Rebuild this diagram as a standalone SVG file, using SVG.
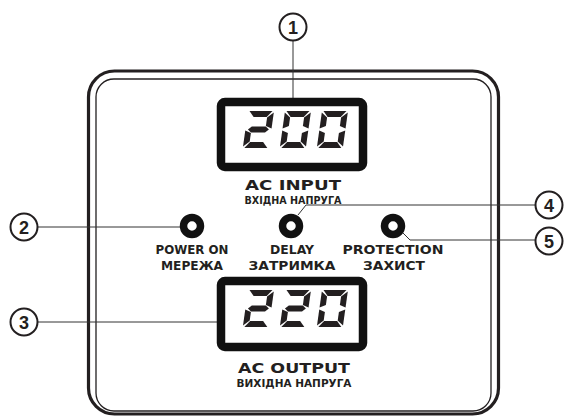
<svg xmlns="http://www.w3.org/2000/svg" width="567" height="416" viewBox="0 0 567 416">
<style>
.frame{fill:none;stroke:#231f20}
.disp{fill:#fff;stroke:#111;stroke-width:8.5}
.seg{fill:#231f20}
.led{fill:#fff;stroke:#111;stroke-width:7.5}
.lbl{font-family:"DejaVu Sans","Liberation Sans",sans-serif;font-weight:bold;fill:#231f20;text-anchor:middle}
.co{fill:#fff;stroke:#231f20;stroke-width:2}
.num{font-family:"Liberation Sans",Arial,sans-serif;font-weight:bold;font-size:18px;fill:#231f20;text-anchor:middle}
.ln{fill:none;stroke:#333;stroke-width:1}
</style>
<defs>
<polygon id="sA" class="seg" points="1.5,0 24.5,0 19.5,6 6.5,6"/>
<polygon id="sB" class="seg" points="26,1.5 26,17.5 20,15 20,6.5"/>
<polygon id="sC" class="seg" points="26,19.5 26,35.5 20,30.5 20,22"/>
<polygon id="sD" class="seg" points="6.5,31 19.5,31 24.5,37 1.5,37"/>
<polygon id="sE" class="seg" points="0,19.5 6,22 6,30.5 0,35.5"/>
<polygon id="sF" class="seg" points="0,1.5 6,6.5 6,15 0,17.5"/>
<polygon id="sG" class="seg" points="2.5,18.5 6,15.5 20,15.5 23.5,18.5 20,21.5 6,21.5"/>
<g id="d2"><use href="#sA"/><use href="#sB"/><use href="#sG"/><use href="#sE"/><use href="#sD"/></g>
<g id="d0"><use href="#sA"/><use href="#sB"/><use href="#sC"/><use href="#sD"/><use href="#sE"/><use href="#sF"/></g>
</defs>

<g id="panel">
<rect class="frame" x="88.5" y="71" width="410" height="343" rx="26" stroke-width="3.2"/>
<rect class="frame" x="96" y="79" width="395" height="332" rx="18" stroke-width="1.3"/>
</g>

<g id="connectors">
<line class="ln" x1="293" y1="40" x2="293" y2="99"/>
<line class="ln" x1="37" y1="227" x2="181" y2="227"/>
<line class="ln" x1="37" y1="322" x2="218" y2="322"/>
<polyline class="ln" points="535,205 306,205 298,215"/>
<polyline class="ln" points="535,240 410,240 403,233"/>
</g>

<g id="input-display">
<rect class="disp" x="221" y="102" width="142" height="65" rx="4"/>
<use href="#d2" transform="translate(248,111) skewX(-8)"/>
<use href="#d0" transform="translate(285,111) skewX(-8)"/>
<use href="#d0" transform="translate(322,111) skewX(-8)"/>
<text class="lbl" x="293" y="190" font-size="14.5" textLength="96" lengthAdjust="spacingAndGlyphs">AC INPUT</text>
<text class="lbl" x="293" y="204" font-size="10.5" textLength="97" lengthAdjust="spacingAndGlyphs">ВХІДНА НАПРУГА</text>
</g>

<g id="led-power">
<circle class="led" cx="192" cy="226" r="8.5"/>
<text class="lbl" x="192" y="254" font-size="12" textLength="73" lengthAdjust="spacingAndGlyphs">POWER ON</text>
<text class="lbl" x="192" y="270" font-size="12" textLength="62" lengthAdjust="spacingAndGlyphs">МЕРЕЖА</text>
</g>

<g id="led-delay">
<circle class="led" cx="291" cy="226" r="8.5"/>
<text class="lbl" x="292" y="254" font-size="12" textLength="44" lengthAdjust="spacingAndGlyphs">DELAY</text>
<text class="lbl" x="292" y="270" font-size="12" textLength="87" lengthAdjust="spacingAndGlyphs">ЗАТРИМКА</text>
</g>

<g id="led-protection">
<circle class="led" cx="393" cy="226" r="8.5"/>
<text class="lbl" x="393" y="254" font-size="12" textLength="101" lengthAdjust="spacingAndGlyphs">PROTECTION</text>
<text class="lbl" x="394" y="270" font-size="12" textLength="62" lengthAdjust="spacingAndGlyphs">ЗАХИСТ</text>
</g>

<g id="output-display">
<rect class="disp" x="221" y="281" width="142" height="66" rx="4"/>
<use href="#d2" transform="translate(248,290) skewX(-8)"/>
<use href="#d2" transform="translate(285,290) skewX(-8)"/>
<use href="#d0" transform="translate(322,290) skewX(-8)"/>
<text class="lbl" x="294" y="373" font-size="14.5" textLength="112" lengthAdjust="spacingAndGlyphs">AC OUTPUT</text>
<text class="lbl" x="294" y="387" font-size="10.5" textLength="115" lengthAdjust="spacingAndGlyphs">ВИХІДНА НАПРУГА</text>
</g>

<g id="callout-1"><circle class="co" cx="293" cy="27" r="13.5"/><text class="num" x="293" y="33.5">1</text></g>
<g id="callout-2"><circle class="co" cx="24" cy="227" r="13.5"/><text class="num" x="24" y="233.5">2</text></g>
<g id="callout-3"><circle class="co" cx="24" cy="322" r="13.5"/><text class="num" x="24" y="328.5">3</text></g>
<g id="callout-4"><circle class="co" cx="549" cy="205" r="13.5"/><text class="num" x="549" y="211.5">4</text></g>
<g id="callout-5"><circle class="co" cx="549" cy="241" r="13.5"/><text class="num" x="549" y="247.5">5</text></g>
</svg>
